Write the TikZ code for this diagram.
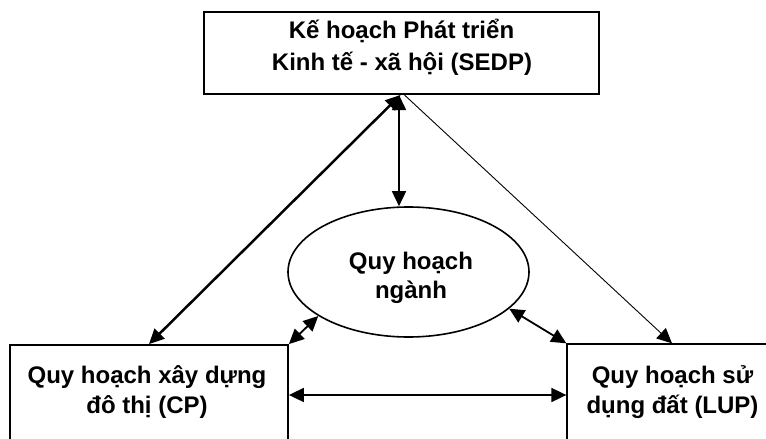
\documentclass[tikz,border=0pt]{standalone}
\usepackage{fontspec}
\setmainfont{Liberation Sans}
\usetikzlibrary{arrows.meta,shapes.geometric}
\begin{document}
\begin{tikzpicture}[x=1pt,y=-1pt,
  lbl/.style={anchor=base,inner sep=0pt,font=\fontsize{24}{28}\selectfont\bfseries},
  boxshape/.style={draw,rectangle,inner sep=0pt},
  link/.style={{Triangle[length=15pt,width=14pt]}-{Triangle[length=15pt,width=14pt]}},
  linkone/.style={-{Triangle[length=15pt,width=14pt]}}
]
\useasboundingbox (0,0) rectangle (766,439);
\clip (0,0) rectangle (766,439);

% boxes and the ellipse
\node[boxshape,line width=2pt,minimum width=395pt,minimum height=82pt] (sedp) at (401.5,53) {};
\node[boxshape,line width=1.8pt,minimum width=278pt,minimum height=135pt] (cp) at (149,412.5) {};
\node[boxshape,line width=1.3pt,minimum width=210pt,minimum height=136pt] (lup) at (672,412) {};
\node[draw,ellipse,line width=1.6pt,inner sep=0pt,minimum width=241pt,minimum height=130pt] (ng) at (408.5,272) {};

% texts
\node[lbl] (t1) at (401.5,38) {Kế hoạch Phát triển};
\node[lbl] (t2) at (402,70) {Kinh tế - xã hội (SEDP)};
\node[lbl] (n1) at (411,269) {Quy hoạch};
\node[lbl] (n2) at (411,298) {ngành};
\node[lbl] (c1) at (147,383) {Quy hoạch xây dựng};
\node[lbl] (c2) at (147,413) {đô thị (CP)};
\node[lbl] (l1) at (672.5,383) {Quy hoạch sử};
\node[lbl] (l2) at (672.5,413) {dụng đất (LUP)};

% connectors
\draw[link,line width=2.5pt] ([xshift=-1pt]sedp.south) -- (cp.north);
\draw[link,line width=1.6pt] ([xshift=-2.5pt]sedp.south) -- ([xshift=-2.5pt]sedp.south |- ng.north);
\draw[linkone,line width=0.9pt] ([xshift=3pt]sedp.south) -- (lup.north);
\draw[link,line width=1.8pt] (ng.206) -- (cp.north east);
\draw[link,line width=1.8pt] (ng.340) -- (lup.north west);
\draw[link,line width=1.8pt] ([yshift=17.5pt]cp.east) -- ([yshift=17.5pt]cp.east -| lup.west);
\end{tikzpicture}
\end{document}
